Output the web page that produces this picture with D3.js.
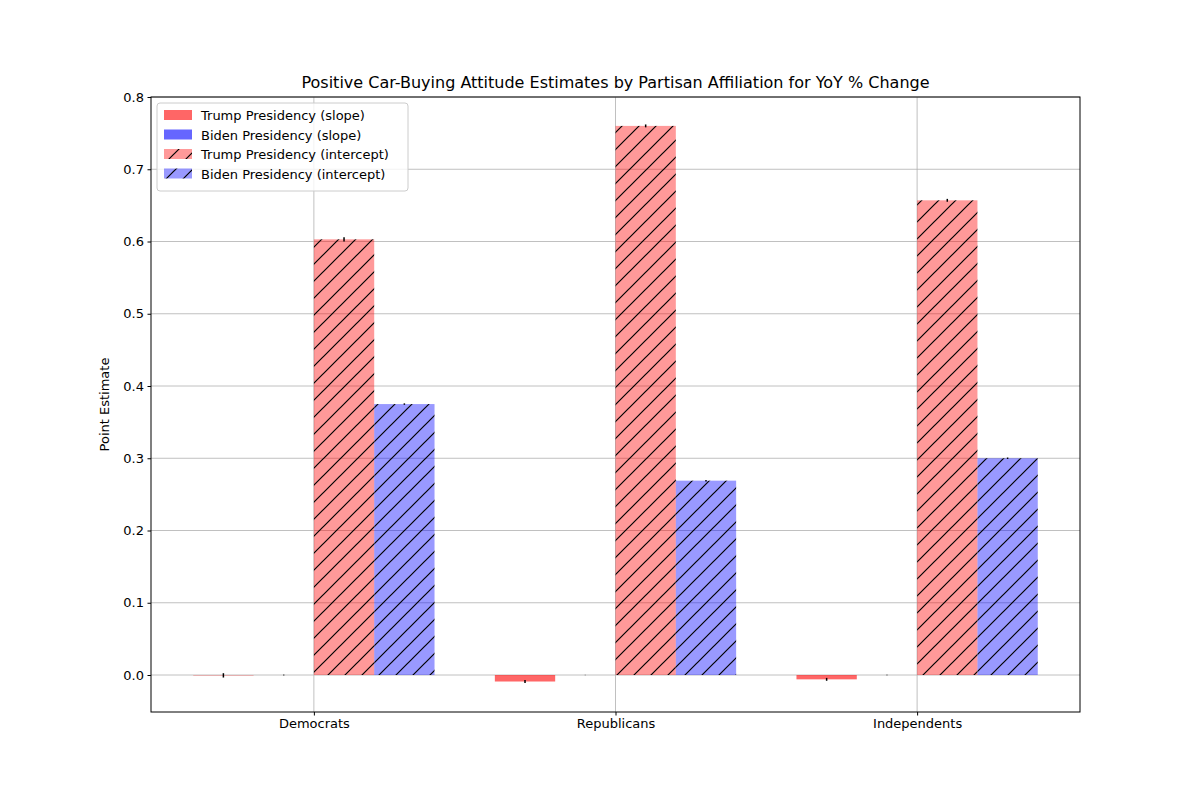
<!DOCTYPE html>
<html><head><meta charset="utf-8">
<script src="https://cdn.jsdelivr.net/npm/d3@7"></script>
<style>body{margin:0;background:#fff}text{font-family:"DejaVu Sans",sans-serif}</style>
</head><body>
<svg id="chart" width="1200" height="800"></svg>
<script>
var categories = ["Democrats", "Republicans", "Independents"];
var trumpSlope = [-0.0005, -0.009, -0.006];
var trumpSlopeErr = [0.003, 0.002, 0.002];
var bidenSlope = [0.0, 0.0, 0.0];
var bidenSlopeErr = [0.0005, 0.0002, 0.0002];
var trumpInt = [0.603, 0.760, 0.657];
var trumpIntErr = [0.003, 0.002, 0.002];
var bidenInt = [0.375, 0.269, 0.300];
var bidenIntErr = [0.001, 0.001, 0.001];
var yTicks = [0.0, 0.1, 0.2, 0.3, 0.4, 0.5, 0.6, 0.7, 0.8];

var pLeft = 151, pRight = 1080, pTop = 97, pBottom = 712;
var svg = d3.select("#chart");

var defs = svg.append("defs");
[["hr", "#ff0000"], ["hb", "#0000ff"]].forEach(function(p) {
  var pat = defs.append("pattern").attr("id", p[0]).attr("patternUnits", "userSpaceOnUse")
    .attr("width", 17).attr("height", 17);
  pat.append("rect").attr("width", 17).attr("height", 17).attr("fill", p[1]).attr("fill-opacity", 0.4);
  pat.append("path").attr("d", "M-2,2 L2,-2 M0,17 L17,0 M15,19 L19,15")
    .attr("stroke", "#000").attr("stroke-width", 1.2);
});

var x = d3.scaleLinear().domain([-0.54, 2.54]).range([pLeft, pRight]);
var y = d3.scaleLinear().domain([-0.0512, 0.8]).range([pBottom, pTop]);
var w = 0.2;

// grid
svg.append("g").selectAll("line").data(yTicks).enter().append("line")
  .attr("x1", pLeft).attr("x2", pRight).attr("y1", function(d) { return y(d); }).attr("y2", function(d) { return y(d); })
  .attr("stroke", "#b0b0b0").attr("stroke-width", 0.8);
svg.append("g").selectAll("line").data(categories).enter().append("line")
  .attr("y1", pTop).attr("y2", pBottom).attr("x1", function(d, i) { return x(i); }).attr("x2", function(d, i) { return x(i); })
  .attr("stroke", "#b0b0b0").attr("stroke-width", 0.8);

var series = [
  {vals: trumpSlope, err: trumpSlopeErr, off: -0.4, fill: "#ff0000", op: 0.6},
  {vals: bidenSlope, err: bidenSlopeErr, off: -0.2, fill: "#0000ff", op: 0.6},
  {vals: trumpInt, err: trumpIntErr, off: 0, fill: "url(#hr)", op: 1},
  {vals: bidenInt, err: bidenIntErr, off: 0.2, fill: "url(#hb)", op: 1}
];
series.forEach(function(s) {
  var g = svg.append("g");
  g.selectAll("rect").data(s.vals).enter().append("rect")
    .attr("x", function(d, i) { return x(i + s.off); })
    .attr("width", x(w) - x(0))
    .attr("y", function(d) { return y(Math.max(d, 0)); })
    .attr("height", function(d) { return Math.abs(y(d) - y(0)); })
    .attr("fill", s.fill).attr("fill-opacity", s.op);
  g.selectAll("line").data(s.vals).enter().append("line")
    .attr("x1", function(d, i) { return x(i + s.off + w / 2); })
    .attr("x2", function(d, i) { return x(i + s.off + w / 2); })
    .attr("y1", function(d, i) { return y(d - s.err[i]); })
    .attr("y2", function(d, i) { return y(d + s.err[i]); })
    .attr("stroke", "#000").attr("stroke-width", 1.5);
});

// axes
var yAxis = d3.axisLeft(y).tickValues(yTicks).tickFormat(d3.format(".1f")).tickSize(3.5).tickPadding(3.5);
var yg = svg.append("g").attr("transform", "translate(" + pLeft + ",0)").call(yAxis);
var xAxis = d3.axisBottom(x).tickValues([0, 1, 2]).tickFormat(function(d) { return categories[d]; }).tickSize(3.5).tickPadding(3.5);
var xg = svg.append("g").attr("transform", "translate(0," + pBottom + ")").call(xAxis);
[yg, xg].forEach(function(g) {
  g.select(".domain").remove();
  g.selectAll("text").attr("font-size", 13).attr("fill", "#000");
  g.selectAll("line").attr("stroke", "#000");
});
svg.append("rect").attr("x", pLeft).attr("y", pTop).attr("width", pRight - pLeft).attr("height", pBottom - pTop)
  .attr("fill", "none").attr("stroke", "#000").attr("stroke-width", 1);

svg.append("text").attr("x", (pLeft + pRight) / 2).attr("y", 88).attr("text-anchor", "middle")
  .attr("font-size", 16).text("Positive Car-Buying Attitude Estimates by Partisan Affiliation for YoY % Change");
svg.append("text").attr("transform", "translate(109," + ((pTop + pBottom) / 2) + ") rotate(-90)")
  .attr("text-anchor", "middle").attr("font-size", 13).text("Point Estimate");

// legend
var labels = ["Trump Presidency (slope)", "Biden Presidency (slope)", "Trump Presidency (intercept)", "Biden Presidency (intercept)"];
var lg = svg.append("g").attr("transform", "translate(157,103)");
lg.append("rect").attr("width", 251).attr("height", 88).attr("rx", 3).attr("fill", "#fff").attr("fill-opacity", 0.8)
  .attr("stroke", "#ccc");
labels.forEach(function(l, i) {
  lg.append("rect").attr("x", 7).attr("y", 7 + i * 19.5).attr("width", 28).attr("height", 10)
    .attr("fill", series[i].fill).attr("fill-opacity", series[i].op);
  lg.append("text").attr("x", 44).attr("y", 17 + i * 19.5).attr("font-size", 13).text(l);
});
</script>
</body></html>
